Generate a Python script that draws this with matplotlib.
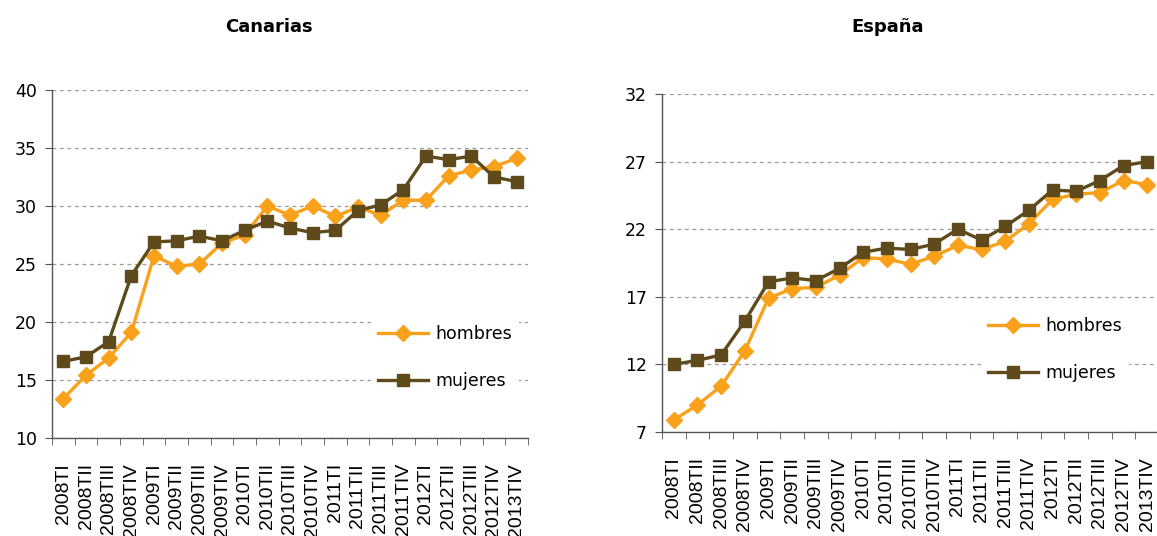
import numpy as np
import matplotlib
matplotlib.use("Agg")
import matplotlib.pyplot as plt
from matplotlib.ticker import FixedLocator, NullFormatter

# Datos (tasa de paro por sexo, % )
trimestres = ['2008TI', '2008TII', '2008TIII', '2008TIV',
              '2009TI', '2009TII', '2009TIII', '2009TIV',
              '2010TI', '2010TII', '2010TIII', '2010TIV',
              '2011TI', '2011TII', '2011TIII', '2011TIV',
              '2012TI', '2012TII', '2012TIII', '2012TIV', '2013TIV']

can_hombres = [13.4, 15.4, 16.9, 19.1, 25.7, 24.8, 25.0, 26.8, 27.5, 30.0, 29.2,
               30.0, 29.1, 29.9, 29.2, 30.5, 30.5, 32.6, 33.1, 33.4, 34.1]
can_mujeres = [16.6, 17.0, 18.3, 24.0, 26.9, 27.0, 27.4, 27.0, 27.9, 28.7, 28.1,
               27.7, 27.9, 29.6, 30.1, 31.4, 34.3, 34.0, 34.3, 32.5, 32.1]

esp_hombres = [7.9, 9.0, 10.4, 13.0, 16.9, 17.6, 17.7, 18.6, 19.9, 19.8, 19.4,
               20.0, 20.8, 20.5, 21.1, 22.4, 24.2, 24.6, 24.7, 25.6, 25.3]
esp_mujeres = [12.0, 12.3, 12.7, 15.2, 18.1, 18.4, 18.2, 19.1, 20.3, 20.6, 20.5,
               20.9, 22.0, 21.2, 22.2, 23.4, 24.9, 24.8, 25.6, 26.7, 27.0]

yticks_can = [10, 15, 20, 25, 30, 35, 40]
yticks_esp = [7, 12, 17, 22, 27, 32]

NARANJA = '#F9A11B'
MARRON = '#5E4A1A'

W, H = 1157, 536
fig = plt.figure(figsize=(W / 100, H / 100), dpi=100)
fig.patch.set_facecolor('white')


def panel(rect, hom, muj, yticks, titulo, tx, leg_xy):
    ax = fig.add_axes(rect)
    x = np.arange(len(trimestres))
    ax.plot(x, hom, color=NARANJA, lw=2.4, marker='D', ms=7.8,
            label='hombres', clip_on=False, zorder=3)
    ax.plot(x, muj, color=MARRON, lw=2.4, marker='s', ms=8,
            label='mujeres', clip_on=False, zorder=4)
    ax.set_xlim(-0.5, len(trimestres) - 0.5)
    ax.set_ylim(yticks[0], yticks[-1])
    ax.set_yticks(yticks)
    ax.set_xticks(x)
    ax.set_xticklabels(trimestres, rotation=90, fontsize=14,
                       family='Liberation Sans')
    ax.xaxis.set_minor_locator(FixedLocator(np.arange(-0.5, len(trimestres), 1.0)))
    ax.xaxis.set_minor_formatter(NullFormatter())
    ax.tick_params(axis='x', which='major', length=0, pad=18)
    ax.tick_params(axis='x', which='minor', length=5, color='#555555', direction='out')
    ax.tick_params(axis='y', length=5, color='#555555', labelsize=12.5, pad=6)
    for s in ['top', 'right']:
        ax.spines[s].set_visible(False)
    for s in ['left', 'bottom']:
        ax.spines[s].set_color('#555555')
        ax.spines[s].set_linewidth(1.0)
    ax.yaxis.grid(True, color='#9a9a9a', linestyle=(0, (3, 3)), lw=0.9)
    ax.set_axisbelow(True)
    fig.text(tx / W, 1 - 27 / H, titulo, ha='center', va='center',
             fontsize=13, fontweight='bold')
    leg = ax.legend(loc='upper left', bbox_to_anchor=(leg_xy[0] / W, 1 - leg_xy[1] / H),
                    bbox_transform=fig.transFigure, borderaxespad=0,
                    frameon=True, fontsize=12.5, handlelength=2.9,
                    handletextpad=0.4, labelspacing=1.7, borderpad=0.4)
    leg.get_frame().set_facecolor('white')
    leg.get_frame().set_edgecolor('none')
    leg.get_frame().set_alpha(1)
    return ax


panel([52 / W, (H - 438) / H, 476 / W, 348 / H], can_hombres, can_mujeres,
      yticks_can, 'Canarias', 269, (371, 318))
panel([662 / W, (H - 432) / H, 497 / W, 338 / H], esp_hombres, esp_mujeres,
      yticks_esp, 'España', 888, (981, 310))

fig.savefig('out.png', dpi=100)
